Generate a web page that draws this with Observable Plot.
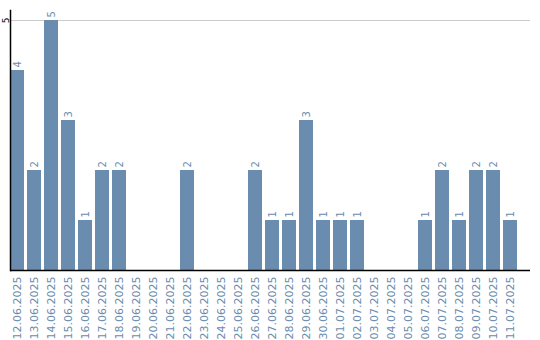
<!DOCTYPE html>
<html><head><meta charset="utf-8">
<script src="https://cdn.jsdelivr.net/npm/d3@7"></script>
<script src="https://cdn.jsdelivr.net/npm/@observablehq/plot@0.6"></script>
<style>body{margin:0;background:#fff}</style>
</head><body><div id="chart"></div>
<script>
const dates = ["12.06.2025","13.06.2025","14.06.2025","15.06.2025","16.06.2025","17.06.2025","18.06.2025","19.06.2025","20.06.2025","21.06.2025","22.06.2025","23.06.2025","24.06.2025","25.06.2025","26.06.2025","27.06.2025","28.06.2025","29.06.2025","30.06.2025","01.07.2025","02.07.2025","03.07.2025","04.07.2025","05.07.2025","06.07.2025","07.07.2025","08.07.2025","09.07.2025","10.07.2025","11.07.2025"];
const counts = [4,2,5,3,1,2,2,0,0,0,2,0,0,0,2,1,1,3,1,1,1,0,0,0,1,2,1,2,2,1];
const yTicks = [5];
const data = dates.map((d,i)=>({date:d, value:counts[i]}));
const nonzero = data.filter(d=>d.value>0);
const barColor = "#6a8cae";
const chart = Plot.plot({
  width: 540, height: 340,
  marginLeft: 10, marginRight: 10, marginTop: 10, marginBottom: 70,
  style: {fontFamily: "DejaVu Sans", fontSize: "11px", background: "#fff"},
  x: {domain: dates, range: [10, 517], paddingInner: 0.2, paddingOuter: 0, align: 0},
  y: {domain: [0, 5.2]},
  marks: [
    Plot.ruleY(yTicks, {stroke: "#ccc", strokeWidth: 1}),
    Plot.barY(data, {x: "date", y: "value", fill: barColor}),
    Plot.text(nonzero, {x: "date", y: "value", text: d=>String(d.value), rotate: -90, textAnchor: "start", dy: -3, fill: barColor, fontSize: 10}),
    Plot.ruleY([0], {stroke: "#000", strokeWidth: 1.5}),
    Plot.frame({anchor: "left", stroke: "#000", strokeWidth: 1.5}),
    Plot.axisX({tickSize: 0, tickPadding: 6, tickRotate: -90, fill: barColor, label: null, fontSize: 11}),
    Plot.axisY(yTicks, {tickSize: 0, tickPadding: 2, tickRotate: -90, tickFormat: d => String(d), fill: "#000", label: null, fontSize: 9})
  ]
});
document.getElementById("chart").append(chart);
</script></body></html>
